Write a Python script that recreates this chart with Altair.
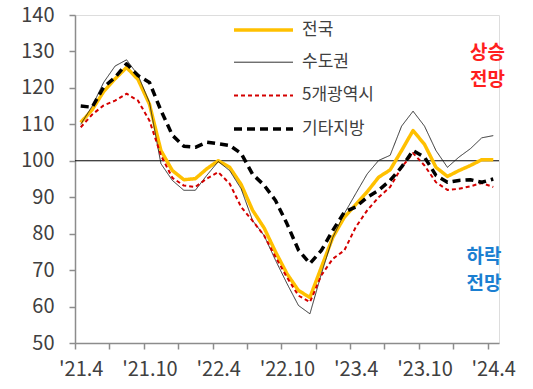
import json
import altair as alt
import pandas as pd

# ---- data ----
series_names = ["전국", "수도권", "5개광역시", "기타지방"]

nationwide = [110.5, 114, 119, 122.5, 125.6, 122.3, 115.5, 102.8, 97.3, 94.8, 95.1, 97.8,
              100, 98.2, 93.5, 86.4, 81.6, 75, 69, 64.4, 62.5, 70.8, 79, 84.5,
              88, 91.5, 95.5, 97.5, 102.8, 108.3, 104.5, 98.2, 95.7, 97.3, 98.7, 100.3, 100.3]
capital = [110, 115, 121.5, 126, 127.7, 123.5, 116, 99.2, 94.6, 91.9, 91.9, 96,
           99.8, 97.3, 92.3, 83.6, 79.5, 72.7, 66.3, 60.3, 58, 69, 79, 85.5,
           91, 96.4, 100.1, 101.5, 109.5, 113.6, 109.5, 102.8, 98.2, 101, 103.3, 106.3, 106.9]
metro5 = [109.2, 112.7, 115.2, 116.5, 118.4, 116.5, 111, 101.5, 95.3, 93.2, 92.8, 95.1,
          96.9, 93.7, 87.3, 83.5, 79.5, 73.6, 68, 63, 61.2, 68.6, 73.1, 75.4,
          81.8, 86.4, 90, 92.8, 98.2, 102.1, 98.7, 94.1, 92, 92.3, 93, 93.9, 92.8]
others = [115, 114.7, 120.2, 122.9, 126.6, 123.4, 121.5, 113.8, 107, 104, 103.7, 105.1,
          104.7, 104.2, 102, 96.3, 93.3, 89.1, 82.7, 75.5, 71.8, 75.4, 80.9, 85.9,
          87.3, 90, 91.9, 94.6, 98.3, 102.8, 101, 96, 94.1, 94.6, 94.8, 94.1, 95]

x_labels = ["'21.4", "'21.10", "'22.4", "'22.10", "'23.4", "'23.10", "'24.4"]
y_ticks = [50, 60, 70, 80, 90, 100, 110, 120, 130, 140]

note_text = [["상승", "전망"], ["하락", "전망"]]
note_x = [35.5, 35.2]
note_y = [129.6, 73.7]
note_color = ["#FF1F1F", "#1B7FD1"]

# ---- build tables ----
n = len(nationwide)
rows = []
for name, vals in zip(series_names, [nationwide, capital, metro5, others]):
    for i, v in enumerate(vals):
        rows.append({"idx": i, "value": v, "series": name})
df = pd.DataFrame(rows)

FONT = "Noto Sans CJK KR"

tick_vals = [-0.5 + 3 * k for k in range(13)]
label_arr = []
for k in range(13):
    label_arr.append(x_labels[k // 2] if k % 2 == 0 else "")
label_expr = json.dumps(label_arr) + "[round((datum.value + 0.5) / 3)]"

x_scale = alt.Scale(domain=[-0.5, n - 0.5], nice=False, zero=False)
y_scale = alt.Scale(domain=[50, 140], nice=False, zero=False)

x_axis = alt.Axis(values=tick_vals, labelExpr=label_expr, title=None, grid=False,
                  labelOffset=5.7, labelOverlap=False, labelFlush=False, labelBound=False,
                  labelPadding=10)
y_axis = alt.Axis(values=y_ticks, title=None, grid=False,
                  labelOverlap=False, labelFlush=False, labelBound=False,
                  labelPadding=15)

# long horizontal stroke symbol (custom path, scaled by sqrt(size)/2)
leg = dict(title=None, orient="none", legendX=176.5, legendY=3,
           symbolType="M-2.95,0H2.95", symbolSize=400,
           labelFont=FONT, labelFontSize=17, labelColor="#404040",
           labelOffset=26.5, rowPadding=13.7)

lines = alt.Chart(df).mark_line(strokeJoin="round").encode(
    x=alt.X("idx:Q", scale=x_scale, axis=x_axis),
    y=alt.Y("value:Q", scale=y_scale, axis=y_axis),
    color=alt.Color("series:N",
                    scale=alt.Scale(domain=series_names,
                                    range=["#FFC000", "#1A1A1A", "#D40000", "#000000"]),
                    legend=alt.Legend(**leg)),
    strokeDash=alt.StrokeDash("series:N",
                              scale=alt.Scale(domain=series_names,
                                              range=[[1, 0], [1, 0], [4, 3], [8, 5]]),
                              legend=alt.Legend(**leg)),
    strokeWidth=alt.StrokeWidth("series:N",
                                scale=alt.Scale(type="ordinal", domain=series_names,
                                                range=[3.5, 0.9, 2, 3.5]),
                                legend=alt.Legend(**leg)),
)

ref = alt.Chart(pd.DataFrame({"y": [100]})).mark_rule(color="#000000", strokeWidth=1).encode(
    y=alt.Y("y:Q", scale=y_scale, axis=y_axis)
)

notes_df = pd.DataFrame({"text": note_text, "x": note_x, "y": note_y, "c": note_color})
notes = alt.Chart(notes_df).mark_text(font=FONT, fontSize=19, fontWeight="bold",
                                      lineHeight=27, align="center", baseline="middle").encode(
    x=alt.X("x:Q", scale=x_scale, axis=x_axis),
    y=alt.Y("y:Q", scale=y_scale, axis=y_axis),
    text="text",
    color=alt.Color("c:N", scale=None),
)

chart = alt.layer(ref, lines, notes).properties(
    width=424, height=328,
    autosize=alt.AutoSizeParams(type="none"),
    padding={"left": 75, "top": 15, "right": 34, "bottom": 46},
).configure_view(stroke=None).configure(background="white").configure_axis(
    tickSize=6, labelFontSize=20, labelColor="#404040",
    labelFont=FONT, domainColor="#8C8C8C", tickColor="#8C8C8C",
    domainWidth=1.5, tickWidth=1.5,
)

chart.save("out.html", embed_options={"renderer": "svg", "actions": False})
